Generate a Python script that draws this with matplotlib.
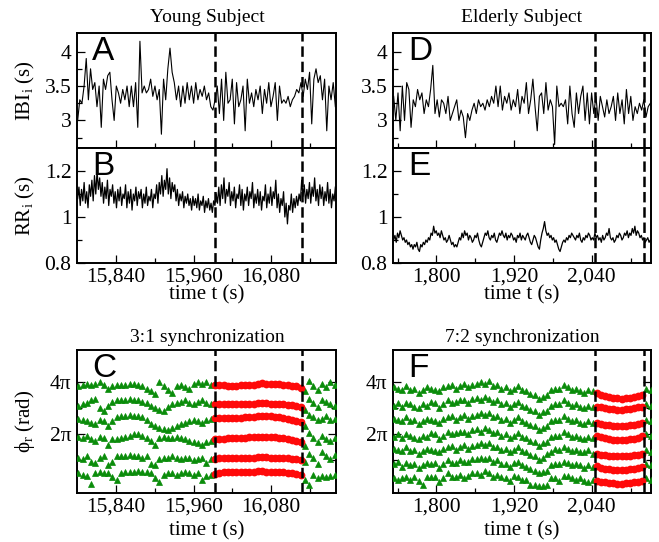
import numpy as np
import matplotlib
matplotlib.use('Agg')
import matplotlib.pyplot as plt
from matplotlib.ticker import FixedLocator, FuncFormatter, NullFormatter

plt.rcParams['font.family'] = ['Liberation Serif', 'DejaVu Serif']
plt.rcParams['mathtext.fontset'] = 'custom'
plt.rcParams['mathtext.rm'] = 'Liberation Serif'
plt.rcParams['mathtext.it'] = 'Liberation Serif:italic'
plt.rcParams['lines.scale_dashes'] = False

# ---------------- data ----------------
young_ibi = [3.0,3.3,3.25,3.5,3.9, 3.3,3.75,3.45,3.55,3.2, 3.5,2.9,3.6,3.45,3.65, 3.7,3.3,3.0,3.5,3.4,
             3.25,3.45,3.3,3.5,3.2, 3.5,3.2,3.55,2.9,4.15, 3.4,3.5,3.4,3.45,3.6, 3.35,3.5,3.3,3.45,2.8,
             3.6,3.3,3.75,4.05,3.7, 3.55,3.3,3.5,3.2,3.5, 3.25,3.55,3.3,3.5,3.25, 3.55,3.3,3.45,3.35,3.5,
             3.3,3.4,3.2,3.15,3.3, 3.5,3.1,3.6,3.0,3.7, 3.25,3.3,3.6,2.95,3.55, 3.2,3.3,3.5,2.85,3.6,
             3.25,3.4,3.2,3.45,3.3, 3.5,3.1,3.45,3.25,3.55, 3.2,3.35,3.55,3.0,3.5, 3.25,3.3,3.25,3.35,3.2,
             3.3,3.35,3.45,3.4,3.55, 3.35,3.6,3.45,3.7,2.95, 3.6,3.75,3.55,3.65,3.3, 3.6,2.85,3.5,3.3,3.55,
             3.2]
young_rr = [1.08,1.13,1.05,1.12,1.07,1.15,1.06,1.11,1.04,1.14, 1.09,1.16,1.07,1.18,1.1,1.2,1.12,1.17,1.09,1.15,
            1.06,1.13,1.08,1.16,1.05,1.12,1.09,1.14,1.06,1.11, 1.04,1.12,1.07,1.13,1.05,1.1,1.08,1.14,1.04,1.11,
            1.06,1.12,1.03,1.1,1.07,1.13,1.05,1.11,1.08,1.12, 1.04,1.1,1.06,1.13,1.05,1.09,1.07,1.12,1.04,1.1,
            1.08,1.14,1.06,1.15,1.1,1.18,1.09,1.16,1.12,1.21, 1.1,1.17,1.08,1.15,1.11,1.14,1.07,1.12,1.05,1.1,
            1.07,1.11,1.04,1.09,1.06,1.1,1.05,1.08,1.03,1.09, 1.05,1.08,1.04,1.1,1.03,1.07,1.05,1.09,1.02,1.07,
            1.04,1.08,1.03,1.06,1.02,1.07,1.05,1.1,1.06,1.13, 1.05,1.14,1.08,1.17,1.06,1.12,1.09,1.15,1.05,1.11,
            1.07,1.13,1.04,1.1,1.08,1.14,1.05,1.12,1.03,1.1, 1.07,1.13,1.05,1.11,1.08,1.15,1.04,1.1,1.06,1.12,
            1.05,1.11,1.03,1.09,1.07,1.14,1.04,1.1,1.06,1.13, 1.05,1.11,1.08,1.16,1.04,1.1,1.02,1.08,1.05,1.11,
            1.0,1.06,0.97,1.05,1.03,1.1,1.02,1.08,1.04,1.09, 1.05,1.1,1.07,1.16,1.09,1.14,1.06,1.12,1.08,1.15,
            1.06,1.13,1.09,1.17,1.07,1.12,1.05,1.14,1.08,1.13, 1.05,1.11,1.07,1.15,1.06,1.12,1.04,1.1,1.07,1.13]
elderly_ibi = [3.35,3.0,3.4,2.85,3.5, 3.0,3.55,3.45,2.9,3.3, 3.2,3.45,3.3,3.4,3.1, 3.3,3.2,3.45,3.8,3.1,
               3.3,3.05,3.3,3.25,3.1, 3.35,3.0,3.1,3.2,3.3, 3.0,3.15,3.05,2.75,3.1, 3.0,3.15,3.25,3.1,3.3,
               3.2,3.25,3.15,3.3,3.2, 3.35,3.25,3.5,3.2,3.5, 3.15,3.35,3.25,3.4,3.15, 3.3,3.2,3.45,3.1,3.35,
               3.25,3.55,3.1,3.3,3.6, 3.2,2.85,3.35,3.4,3.1, 3.55,3.15,3.3,3.2,2.65, 3.5,3.2,3.25,3.2,3.3,
               2.95,3.5,3.1,2.9,3.4, 3.1,3.35,3.5,3.0,3.4, 2.95,3.4,3.1,3.35,3.0, 3.35,3.2,3.05,3.3,3.1,
               3.2,3.35,3.0,3.4,3.1, 3.3,2.95,3.45,3.1,3.35, 3.0,3.2,3.1,3.25,3.15, 3.3,3.05,3.2,3.25]
elderly_rr = [0.9,0.92,0.89,0.93,0.91,0.94,0.92,0.9,0.91,0.89, 0.9,0.88,0.89,0.87,0.88,0.86,0.88,0.87,0.89,0.86,
              0.85,0.88,0.87,0.89,0.88,0.9,0.89,0.91,0.9,0.93, 0.92,0.96,0.93,0.94,0.92,0.93,0.91,0.94,0.92,0.9,
              0.91,0.89,0.9,0.92,0.9,0.88,0.89,0.87,0.88,0.87, 0.89,0.91,0.9,0.93,0.91,0.94,0.92,0.93,0.9,0.92,
              0.91,0.89,0.9,0.92,0.91,0.93,0.9,0.88,0.87,0.89, 0.91,0.93,0.92,0.94,0.91,0.9,0.92,0.91,0.93,0.9,
              0.89,0.91,0.93,0.92,0.94,0.92,0.91,0.93,0.9,0.92, 0.91,0.93,0.92,0.9,0.91,0.89,0.92,0.91,0.93,0.9,
              0.92,0.91,0.9,0.92,0.93,0.91,0.89,0.88,0.9,0.92, 0.91,0.89,0.87,0.86,0.9,0.93,0.95,0.98,0.94,0.92,
              0.93,0.91,0.92,0.9,0.91,0.89,0.9,0.88,0.86,0.85, 0.87,0.89,0.9,0.89,0.91,0.9,0.92,0.91,0.93,0.92,
              0.91,0.9,0.92,0.91,0.93,0.9,0.89,0.91,0.9,0.92, 0.91,0.93,0.92,0.9,0.91,0.9,0.93,0.91,0.92,0.9,
              0.91,0.89,0.92,0.9,0.91,0.93,0.92,0.95,0.91,0.9, 0.91,0.89,0.9,0.92,0.91,0.93,0.92,0.9,0.91,0.93,
              0.92,0.94,0.91,0.93,0.92,0.95,0.93,0.96,0.92,0.94, 0.93,0.91,0.92,0.9,0.91,0.89,0.9,0.91,0.89,0.9]

# relative phases (units of pi), one list per band; 3:1 (young) and 7:2 (elderly)
c_band1 = [0.5,0.45,0.4,0.1,0.5,0.55,0.5,0.5,0.35,0.25,0.5,0.55,0.55,0.55,0.6,0.55,0.55,0.5,0.3,0.15,
           0.45,0.5,0.5,0.45,0.5,0.55,0.5,0.45,0.5,0.25,0.4,0.45,
           0.47,0.52,0.53,0.53,0.53,0.54,0.55,0.55,0.54,0.55,0.57,0.58,0.56,0.55,0.55,0.54,0.53,0.52,0.5,0.47,0.42,
           0.25,0.05,0.45,0.3,0.4,0.35,0.4,0.45]
c_band2 = [1.1,1.05,1.15,0.95,0.9,1.1,1.15,0.8,0.95,1.15,1.15,1.15,1.2,1.15,1.15,1.1,1.15,0.85,0.8,1.05,
           1.1,1.1,1.15,1.1,1.05,1.1,1.1,1.0,1.05,1.1,0.9,1.05,
           1.06,1.07,1.07,1.07,1.08,1.08,1.08,1.09,1.09,1.1,1.11,1.12,1.11,1.1,1.1,1.09,1.08,1.07,1.05,1.03,1.0,
           0.95,1.25,1.1,0.85,1.3,1.15,1.05,1.2]
c_band3 = [1.9,1.85,1.95,1.8,1.75,1.9,1.85,1.6,1.8,1.8,1.85,1.9,1.95,2.0,2.0,1.95,1.85,1.75,1.6,1.85,
           1.9,1.85,1.85,1.9,1.85,1.8,1.75,1.7,1.65,1.6,1.7,1.75,
           1.82,1.83,1.83,1.84,1.84,1.85,1.86,1.87,1.88,1.89,1.9,1.91,1.9,1.89,1.88,1.86,1.84,1.81,1.78,1.74,1.7,
           1.55,2.05,1.85,1.7,1.95,1.8,1.75,1.85]
c_band4 = [2.6,2.55,2.5,2.45,2.4,2.55,2.5,2.3,2.5,2.65,2.7,2.7,2.75,2.7,2.7,2.65,2.55,2.4,2.3,2.25,
           2.2,2.15,2.25,2.3,2.4,2.45,2.5,2.55,2.5,2.45,2.55,2.6,
           2.62,2.62,2.62,2.63,2.63,2.63,2.64,2.65,2.66,2.68,2.7,2.72,2.71,2.7,2.68,2.66,2.63,2.6,2.56,2.51,2.46,
           2.3,2.75,2.65,2.55,2.6,2.7,2.55,2.6]
c_band5 = [3.1,3.15,3.2,3.3,3.35,3.0,2.9,3.1,3.25,3.3,3.3,3.3,3.35,3.3,3.3,3.25,3.2,3.1,3.0,2.95,
           2.9,3.05,3.15,3.2,3.25,3.3,3.2,3.15,3.25,3.3,3.2,3.15,
           3.15,3.15,3.15,3.16,3.16,3.16,3.17,3.17,3.17,3.18,3.19,3.2,3.19,3.18,3.18,3.17,3.16,3.14,3.12,3.1,3.06,
           2.95,3.35,3.2,3.05,3.3,3.25,3.15,3.1]
c_band6 = [3.85,3.9,3.95,3.9,3.95,4.0,3.9,3.75,3.85,3.9,3.9,3.9,3.92,3.92,3.9,3.85,3.75,3.65,3.55,4.0,
           3.85,3.7,3.6,3.85,3.9,3.8,3.75,3.95,4.0,3.95,4.0,3.9,
           3.88,3.88,3.88,3.87,3.87,3.87,3.88,3.88,3.89,3.9,3.93,3.96,3.93,3.92,3.93,3.92,3.9,3.89,3.87,3.84,3.78,
           3.65,4.05,3.85,3.7,3.95,3.8,4.0,3.9]

f_band1 = [0.30,0.25,0.30,0.35,0.25,0.35,0.20,0.05,0.35,0.35,0.35,0.15,0.30,0.50,0.35,0.35,0.45,0.30,0.40,0.50,
           0.50,0.45,0.60,0.50,0.35,0.45,0.35,0.30,0.20,0.40,0.35,0.25,0.25,0.05,0.05,0.00,0.00,0.05,0.30,0.30,
           0.20,0.40,0.40,0.30,0.25,0.30,0.20,0.15,0.25,
           0.22,0.18,0.15,0.13,0.11,0.1,0.1,0.11,0.13,0.15,0.18,0.22, 0.3,0.25]
f_band2 = [.85,.95,.75,.9,.8,.85,.7,.8,.9,.85,.9,.7,.85,1.0,.9,.9,1.0,.95,.95,1.05,
           1.05,1.1,1.05,1.1,.95,1.0,.85,.85,.75,.9,.95,.8,.75,.65,.6,.5,.55,.6,.8,.85,
           .85,.95,.9,.8,.85,.8,.7,.8,.75,
           0.76,0.72,0.68,0.65,0.63,0.62,0.62,0.63,0.65,0.68,0.71,0.75, 0.85,0.8]
f_band3 = [1.45,1.4,1.35,1.5,1.35,1.4,1.25,1.35,1.45,1.4,1.35,1.3,1.45,1.5,1.55,1.4,1.5,1.6,1.45,1.55,
           1.6,1.65,1.6,1.65,1.5,1.5,1.4,1.45,1.3,1.4,1.5,1.35,1.3,1.2,1.15,1.0,1.1,1.25,1.3,1.45,
           1.4,1.5,1.45,1.35,1.4,1.3,1.3,1.4,1.25,
           1.25,1.22,1.2,1.18,1.17,1.16,1.16,1.17,1.18,1.2,1.22,1.25, 1.4,1.3]
f_band4 = [1.9,2.0,1.85,2.0,1.95,1.85,1.8,1.95,1.9,2.05,2.0,1.8,1.95,2.1,2.0,2.05,2.1,2.1,2.0,2.15,
           2.2,2.1,2.25,2.15,2.05,2.1,1.95,2.0,1.85,1.95,2.05,1.9,1.85,1.75,1.7,1.55,1.65,1.7,1.9,1.95,
           1.95,2.1,2.0,1.9,1.95,1.85,1.8,1.9,1.85,
           1.92,1.88,1.84,1.81,1.79,1.77,1.77,1.78,1.8,1.83,1.87,1.92, 2.0,1.95]
f_band5 = [2.6,2.55,2.5,2.65,2.5,2.55,2.4,2.5,2.6,2.55,2.5,2.45,2.6,2.65,2.7,2.55,2.65,2.75,2.6,2.7,
           2.75,2.8,2.75,2.8,2.65,2.7,2.55,2.6,2.45,2.55,2.65,2.5,2.45,2.35,2.3,2.15,2.25,2.3,2.5,2.55,
           2.55,2.7,2.6,2.5,2.55,2.45,2.4,2.5,2.45,
           2.45,2.41,2.37,2.34,2.31,2.3,2.3,2.31,2.34,2.37,2.41,2.45, 2.55,2.5]
f_band6 = [3.1,3.2,3.05,3.2,3.15,3.05,3.0,3.15,3.1,3.25,3.2,3.0,3.15,3.3,3.2,3.25,3.3,3.3,3.2,3.35,
           3.4,3.3,3.45,3.35,3.25,3.3,3.15,3.2,3.05,3.15,3.25,3.1,3.05,2.95,2.9,2.75,2.85,2.9,3.1,3.15,
           3.15,3.3,3.2,3.1,3.15,3.05,3.0,3.1,3.05,
           3.06,3.03,3.0,2.98,2.96,2.95,2.95,2.96,2.98,3.0,3.03,3.06, 3.15,3.1]
f_band7 = [3.8,3.75,3.7,3.85,3.7,3.75,3.6,3.7,3.8,3.75,3.7,3.65,3.8,3.85,3.9,3.75,3.85,3.95,3.8,3.9,
           3.95,4.0,3.95,4.05,3.85,3.9,3.75,3.8,3.65,3.75,3.85,3.7,3.65,3.55,3.5,3.35,3.45,3.5,3.7,3.75,
           3.75,3.9,3.8,3.7,3.75,3.65,3.6,3.7,3.65,
           3.58,3.52,3.47,3.43,3.4,3.38,3.37,3.38,3.4,3.43,3.47,3.52, 3.75,3.7]

young_window = (15993, 16127)
elderly_window = (2045, 2120)
young_xlim = (15780, 16180)
elderly_xlim = (1733, 2131.5)
young_xticks = [15840, 15960, 16080]
young_xminor = [15900, 16020, 16140]
elderly_xticks = [1800, 1920, 2040]
elderly_xminor = [1740, 1860, 1980, 2100]
young_beat_start, young_beat_step = 15782, 6.6
elderly_beat_start, elderly_beat_step = 1734, 6.4

GREEN = '#0a8c0a'
RED = '#ff0a0a'

# ---------------- figure ----------------
W, H = 659, 542
fig = plt.figure(figsize=(W / 100, H / 100), dpi=100)

def add_ax(x0, y0, x1, y1):
    return fig.add_axes([x0 / W, 1 - y1 / H, (x1 - x0) / W, (y1 - y0) / H])

axA = add_ax(77, 33, 336, 148)
axB = add_ax(77, 148, 336, 263)
axC = add_ax(77, 350, 336, 493)
axD = add_ax(393, 33, 651, 148)
axE = add_ax(393, 148, 651, 263)
axF = add_ax(393, 350, 651, 493)

TICK_FS = 15.5
comma_fmt = FuncFormatter(lambda v, p: f'{int(round(v)):,}')

def style(ax, xticks, xminor, xlim, show_xlabels, right_ticks=False):
    for s in ax.spines.values():
        s.set_linewidth(1.4)
    ax.set_xlim(*xlim)
    ax.xaxis.set_major_locator(FixedLocator(xticks))
    ax.xaxis.set_minor_locator(FixedLocator(xminor))
    ax.tick_params(which='both', direction='in', width=0.9, labelsize=TICK_FS,
                   top=False, right=right_ticks)
    ax.tick_params(which='major', length=6)
    ax.tick_params(which='minor', length=3.5)
    ax.tick_params(axis='y', pad=4)
    ax.tick_params(axis='x', pad=3)
    if show_xlabels:
        ax.xaxis.set_major_formatter(comma_fmt)
    else:
        ax.xaxis.set_major_formatter(NullFormatter())

def dashed(ax, win):
    for x in win:
        ax.axvline(x, color='k', lw=1.8, dashes=(7.5, 3.5), zorder=5)

def letter(ax, s, h):
    ax.text(15 / 259, 1 - 3 / h, s, transform=ax.transAxes, ha='left', va='top',
            fontsize=24, family=['Liberation Sans', 'DejaVu Sans'], zorder=6)

def fmt_num(v, p):
    return f'{v:g}'

# IBI panels
for ax, data, xlim in [(axA, young_ibi, young_xlim), (axD, elderly_ibi, elderly_xlim)]:
    t = np.linspace(xlim[0] + 1, xlim[1] - 1, len(data))
    ax.plot(t, data, color='k', lw=0.8)
    ax.set_ylim(2.6, 4.27)
    ax.yaxis.set_major_locator(FixedLocator([3, 3.5, 4]))
    ax.yaxis.set_minor_locator(FixedLocator([2.75, 3.25, 3.75]))
    ax.yaxis.set_major_formatter(FuncFormatter(fmt_num))

# RR panels
for ax, data, xlim in [(axB, young_rr, young_xlim), (axE, elderly_rr, elderly_xlim)]:
    t = np.linspace(xlim[0] + 1, xlim[1] - 1, len(data))
    ax.plot(t, data, color='k', lw=0.9)
    ax.set_ylim(0.8, 1.3)
    ax.yaxis.set_major_locator(FixedLocator([0.8, 1.0, 1.2]))
    ax.yaxis.set_minor_locator(FixedLocator([0.9, 1.1]))
    ax.yaxis.set_major_formatter(FuncFormatter(fmt_num))

# phase panels
def phase_panel(ax, bands, start, step, win):
    n = max(len(b) for b in bands)
    t = start + step * np.arange(n)
    for vals in bands:
        v = np.array(vals) * np.pi
        tt = t[:len(v)]
        m = (tt >= win[0]) & (tt <= win[1])
        ax.plot(tt[~m], v[~m], ls='none', marker='^', ms=4.6, color=GREEN,
                mec=GREEN, mew=0.5, zorder=3)
    for vals in bands:
        v = np.array(vals) * np.pi
        tt = t[:len(v)]
        m = (tt >= win[0]) & (tt <= win[1])
        ax.plot(tt[m], v[m], ls='none', marker='o', ms=5.6, color=RED,
                mew=0, zorder=4)
    ax.set_ylim(-0.26 * np.pi, 5.24 * np.pi)
    ax.yaxis.set_major_locator(FixedLocator([2 * np.pi, 4 * np.pi]))
    ax.yaxis.set_minor_locator(FixedLocator([np.pi, 3 * np.pi]))
    ax.yaxis.set_major_formatter(FuncFormatter(lambda v, p: f'{int(round(v / np.pi))}π'))

phase_panel(axC, [c_band1, c_band2, c_band3, c_band4, c_band5, c_band6],
            young_beat_start, young_beat_step, young_window)
phase_panel(axF, [f_band1, f_band2, f_band3, f_band4, f_band5, f_band6, f_band7],
            elderly_beat_start, elderly_beat_step, elderly_window)

style(axA, young_xticks, young_xminor, young_xlim, False)
style(axB, young_xticks, young_xminor, young_xlim, True)
style(axC, young_xticks, young_xminor, young_xlim, True, right_ticks=True)
style(axD, elderly_xticks, elderly_xminor, elderly_xlim, False)
style(axE, elderly_xticks, elderly_xminor, elderly_xlim, True)
style(axF, elderly_xticks, elderly_xminor, elderly_xlim, True, right_ticks=True)

for ax in (axA, axB, axC):
    dashed(ax, young_window)
for ax in (axD, axE, axF):
    dashed(ax, elderly_window)

letter(axA, 'A', 115)
letter(axB, 'B', 115)
letter(axC, 'C', 143)
letter(axD, 'D', 115)
letter(axE, 'E', 115)
letter(axF, 'F', 143)

LAB_FS = 15
axA.set_ylabel('IBI$_\\mathregular{i}$ (s)', fontsize=LAB_FS)
axB.set_ylabel('RR$_\\mathregular{i}$ (s)', fontsize=LAB_FS)
axC.set_ylabel('\u03d5$_\\mathregular{r}$ (rad)', fontsize=LAB_FS)
for ax in (axA, axB, axC):
    ax.yaxis.set_label_coords(-40 / 259, 0.5)
for ax in (axB, axE):
    ax.set_xlabel('time t (s)', fontsize=LAB_FS)
    ax.xaxis.set_label_coords(0.5, -22 / 115)
for ax in (axC, axF):
    ax.set_xlabel('time t (s)', fontsize=LAB_FS)
    ax.xaxis.set_label_coords(0.5, -28 / 143)

TITLE_FS = 14
fig.text(207 / W, 1 - 18 / H, 'Young Subject', ha='center', va='center', fontsize=TITLE_FS)
fig.text(522 / W, 1 - 18 / H, 'Elderly Subject', ha='center', va='center', fontsize=TITLE_FS)
fig.text(207 / W, 1 - 338 / H, '3:1 synchronization', ha='center', va='center', fontsize=TITLE_FS)
fig.text(522 / W, 1 - 338 / H, '7:2 synchronization', ha='center', va='center', fontsize=TITLE_FS)

fig.savefig('out.png', dpi=100)
